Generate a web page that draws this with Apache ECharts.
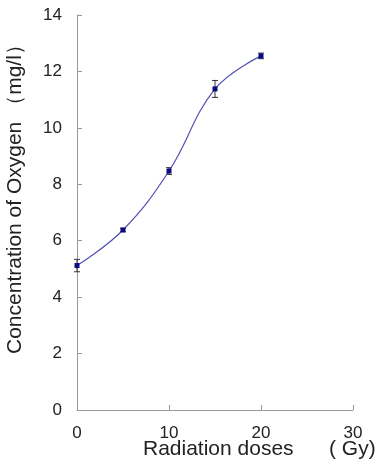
<!DOCTYPE html>
<html><head><meta charset="utf-8">
<script src="https://cdn.jsdelivr.net/npm/echarts@6/dist/echarts.min.js"></script>
<style>html,body{margin:0;padding:0;background:#fff}#c{width:378px;height:466px}</style>
</head><body><div id="c"></div>
<script>
var doses = [0, 5, 10, 15, 20];
var oxygen = [5.12, 6.38, 8.47, 11.38, 12.55];
var errors = [0.22, 0.06, 0.12, 0.3, 0.1];
var xTicks = [0, 10, 20, 30];
var yTicks = [0, 2, 4, 6, 8, 10, 12, 14];

var chart = echarts.init(document.getElementById('c'));
var font = 'Liberation Sans, Arial, sans-serif';
chart.setOption({
  animation: false,
  grid: {left: 77, top: 15, right: 25, bottom: 56},
  xAxis: {
    type: 'value', min: 0, max: 30, interval: 10,
    axisLine: {lineStyle: {color: '#9a9a9a', width: 1}},
    axisTick: {inside: true, length: 5, lineStyle: {color: '#9a9a9a'}},
    axisLabel: {color: '#222', fontSize: 17, fontFamily: font, margin: 15},
    splitLine: {show: false}
  },
  yAxis: {
    type: 'value', min: 0, max: 14, interval: 2,
    axisLine: {show: true, lineStyle: {color: '#9a9a9a', width: 1}},
    axisTick: {show: true, inside: true, length: 5, lineStyle: {color: '#9a9a9a'}},
    axisLabel: {color: '#222', fontSize: 17, fontFamily: font, margin: 15},
    splitLine: {show: false}
  },
  graphic: [
    {type: 'text', left: 143, top: 439, style: {text: 'Radiation doses', fontSize: 21, fontFamily: font, fill: '#222'}},
    {type: 'text', left: 329, top: 439, style: {text: '( Gy)', fontSize: 21, fontFamily: font, fill: '#222'}},
    {type: 'text', x: 5, y: 354, rotation: Math.PI / 2, style: {text: 'Concentration of Oxygen （mg/l）', fontSize: 21, fontFamily: font, fill: '#222'}}
  ],
  series: [
    {
      type: 'line', smooth: 0.4,
      data: doses.map(function (d, i) { return [d, oxygen[i]]; }),
      lineStyle: {color: '#5252b4', width: 1.2},
      symbol: 'rect', symbolSize: 5,
      itemStyle: {color: '#0a0a80'},
      z: 3
    },
    {
      type: 'custom',
      data: doses.map(function (d, i) { return [d, oxygen[i] - errors[i], oxygen[i] + errors[i]]; }),
      renderItem: function (params, api) {
        var lo = api.coord([api.value(0), api.value(1)]);
        var hi = api.coord([api.value(0), api.value(2)]);
        var w = 3;
        var st = {stroke: '#333', lineWidth: 1};
        return {type: 'group', children: [
          {type: 'line', shape: {x1: lo[0], y1: lo[1], x2: hi[0], y2: hi[1]}, style: st},
          {type: 'line', shape: {x1: lo[0] - w, y1: lo[1], x2: lo[0] + w, y2: lo[1]}, style: st},
          {type: 'line', shape: {x1: hi[0] - w, y1: hi[1], x2: hi[0] + w, y2: hi[1]}, style: st}
        ]};
      },
      z: 2
    }
  ]
});
</script></body></html>
